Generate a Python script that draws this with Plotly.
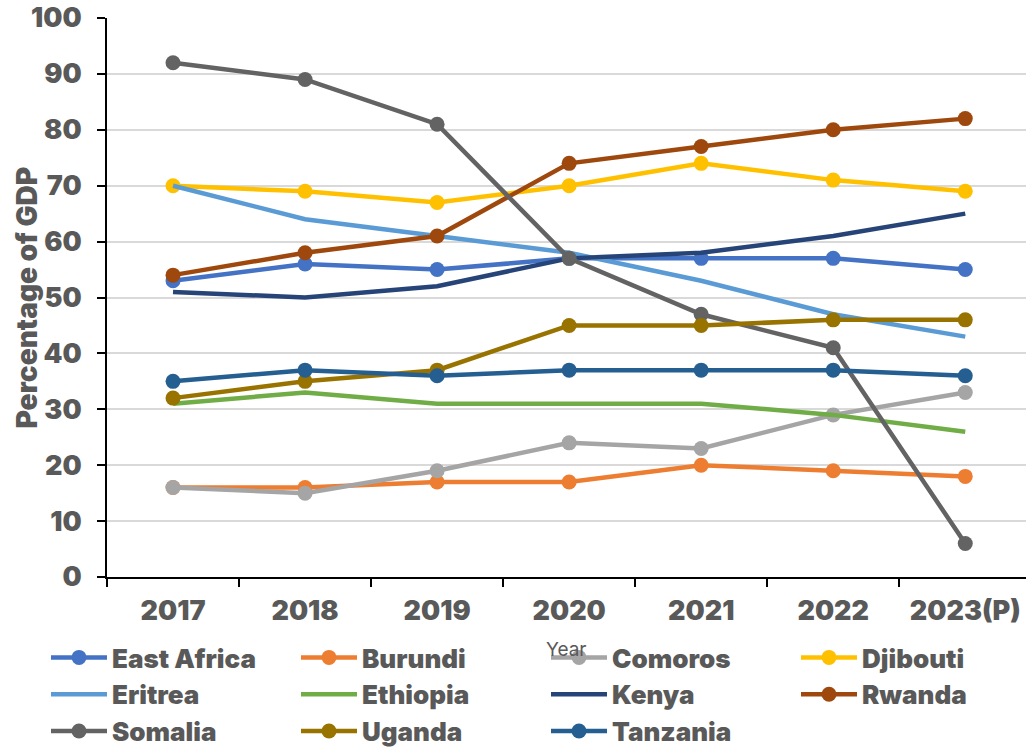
import plotly.graph_objects as go

years = ["2017", "2018", "2019", "2020", "2021", "2022", "2023(P)"]

east_africa = [53, 56, 55, 57, 57, 57, 55]
burundi = [16, 16, 17, 17, 20, 19, 18]
comoros = [16, 15, 19, 24, 23, 29, 33]
djibouti = [70, 69, 67, 70, 74, 71, 69]
eritrea = [70, 64, 61, 58, 53, 47, 43]
ethiopia = [31, 33, 31, 31, 31, 29, 26]
kenya = [51, 50, 52, 57, 58, 61, 65]
rwanda = [54, 58, 61, 74, 77, 80, 82]
somalia = [92, 89, 81, 57, 47, 41, 6]
uganda = [32, 35, 37, 45, 45, 46, 46]
tanzania = [35, 37, 36, 37, 37, 37, 36]

# (name, values, colour, show markers)
series = [
    ("East Africa", east_africa, "#4472C4", True),
    ("Burundi", burundi, "#ED7D31", True),
    ("Comoros", comoros, "#A5A5A5", True),
    ("Djibouti", djibouti, "#FFC000", True),
    ("Eritrea", eritrea, "#5B9BD5", False),
    ("Ethiopia", ethiopia, "#70AD47", False),
    ("Kenya", kenya, "#264478", False),
    ("Rwanda", rwanda, "#9E480E", True),
    ("Somalia", somalia, "#636363", True),
    ("Uganda", uganda, "#997300", True),
    ("Tanzania", tanzania, "#255E91", True),
]

FONT = "Inter"
TXT = "#595959"

fig = go.Figure()
for name, vals, col, mk in series:
    fig.add_trace(go.Scatter(
        x=years, y=vals, name=name,
        mode="lines+markers" if mk else "lines",
        line=dict(color=col, width=4.5),
        marker=dict(color=col, size=15),
    ))

fig.update_layout(
    width=1026, height=749,
    margin=dict(l=107, r=0, t=18, b=172, autoexpand=False),
    paper_bgcolor="white", plot_bgcolor="white",
    font=dict(family=FONT, color=TXT, size=26, weight=900),
    showlegend=True,
    legend=dict(
        orientation="h",
        xref="paper", yref="paper",
        x=-61 / 919, y=-57 / 559, xanchor="left", yanchor="top",
        entrywidth=179, itemwidth=56,
        tracegroupgap=0,
        font=dict(family=FONT, color=TXT, size=26, weight=900),
        bgcolor="rgba(0,0,0,0)",
    ),
    xaxis=dict(
        type="category",
        range=[-0.5, 6.46],
        showline=True, linecolor="black", linewidth=2,
        ticks="outside", tickson="boundaries", ticklen=8, tickwidth=2, tickcolor="black",
        showgrid=False,
        ticklabelstandoff=9,
        tickfont=dict(family=FONT, color=TXT, size=27, weight=900),
    ),
    yaxis=dict(
        range=[0, 100], dtick=10,
        showline=True, linecolor="black", linewidth=2,
        ticks="outside", ticklen=8, tickwidth=2, tickcolor="black",
        gridcolor="#D9D9D9", gridwidth=1.5,
        zeroline=False,
        ticklabelstandoff=10,
        tickfont=dict(family=FONT, color=TXT, size=27, weight=900),
    ),
    annotations=[
        dict(
            text="Percentage of GDP", textangle=-90,
            xref="paper", yref="paper", x=0, y=0.5,
            xshift=-81, xanchor="center", yanchor="middle", showarrow=False,
            font=dict(family=FONT, color=TXT, size=28, weight=900),
        ),
        dict(
            text="Year", xref="paper", yref="paper", x=0.5, y=0,
            yshift=-72, xanchor="center", yanchor="middle", showarrow=False,
            font=dict(family=FONT, color=TXT, size=19, weight=400),
        ),
    ],
)

fig.write_html("out.html")
